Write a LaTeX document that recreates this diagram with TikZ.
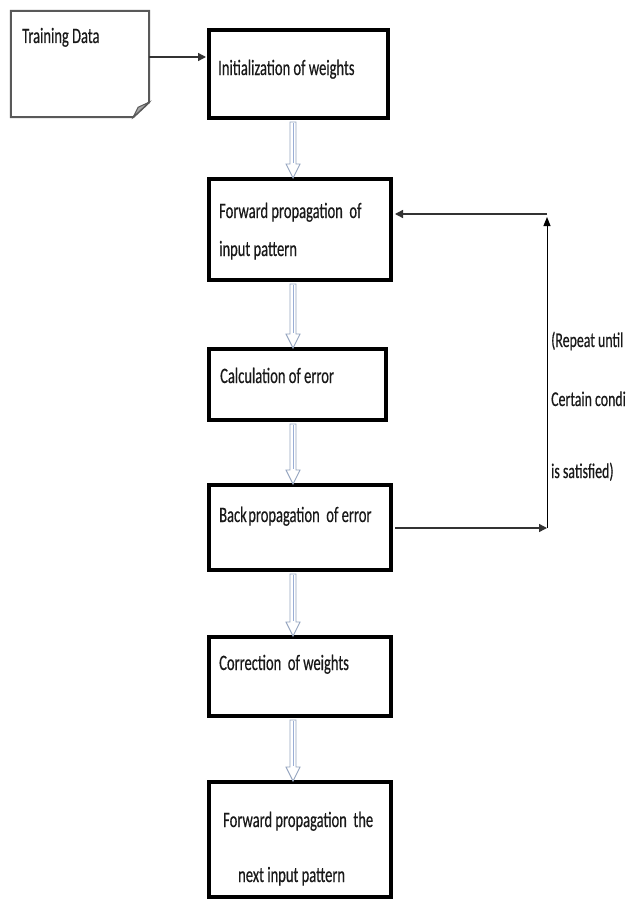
\documentclass[tikz,border=0pt]{standalone}
\usepackage{fontspec}
\setmainfont{Carlito}[FakeStretch=0.66, FakeBold=0.4]
\usetikzlibrary{arrows.meta,calc}
\definecolor{arrline}{RGB}{150,165,192}
\definecolor{arrcore}{RGB}{110,140,195}
\newcommand\flowarrow[2]{%
  \draw[blockarr] ($(#1.south -| ax)+(-3,2)$) -- ($(#2.north -| ax)+(-3,-13)$)
    -- ($(#2.north -| ax)+(-7,-13)$) -- ($(#2.north -| ax)+(0,1)$)
    -- ($(#2.north -| ax)+(7,-13)$) -- ($(#2.north -| ax)+(3,-13)$)
    -- ($(#1.south -| ax)+(3,2)$) -- cycle;
  \draw[arrcore!70, line width=0.6pt] ($(#1.south -| ax)+(0,3)$) -- ($(#2.north -| ax)+(0,-14)$);}
\begin{document}
\begin{tikzpicture}[x=1pt,y=-1pt,
  box/.style={draw=black, line width=4pt, inner sep=0pt, rectangle},
  lbl/.style={anchor=base west, inner sep=0pt, font=\fontsize{22}{26}\selectfont, text=black!90},
  sidelbl/.style={lbl, font=\fontsize{21}{25}\selectfont},
  conn/.style={draw=black!80, line width=1.4pt, -{Triangle[length=8pt,width=8pt]}},
  vconn/.style={draw=black, line width=1pt, -{Triangle[length=9pt,width=7pt]}},
  blockarr/.style={draw=arrline, line width=0.9pt, fill=white, line join=miter},
  docline/.style={draw=black!65, line width=2pt, line join=miter}]
\useasboundingbox (0,0) rectangle (627,899);
\fill[white] (0,0) rectangle (627,899);
\coordinate (ax) at (293,0);
% Training data document
\node[minimum width=138pt, minimum height=106pt, inner sep=0pt] (td) at (80,64) {};
\draw[docline] (td.north west) -- (td.north east) -- ($(td.south east)+(0,-15)$)
  -- ($(td.south east)+(-16,0)$) -- (td.south west) -- cycle;
\filldraw[draw=black!65, fill=black!35, line width=1pt] ($(td.south east)+(0,-15)$)
  -- ($(td.south east)+(-11,-10)$) -- ($(td.south east)+(-16,0)$) -- cycle;
\node[lbl] (tdT) at (22,43) {Training Data};
% boxes
\node[box, minimum width=179pt, minimum height=88pt] (init) at (298.5,74) {};
\node[box, minimum width=182pt, minimum height=101pt] (fp) at (300,229.5) {};
\node[box, minimum width=177pt, minimum height=71pt] (calc) at (297.5,384.5) {};
\node[box, minimum width=182pt, minimum height=85pt] (bp) at (300,527.5) {};
\node[box, minimum width=182pt, minimum height=79pt] (corr) at (300,676.5) {};
\node[box, minimum width=182pt, minimum height=115pt] (nxt) at (300,839.5) {};
% labels
\node[lbl] (initT) at (218,75) {Initialization of weights};
\node[lbl] (fpT1) at (219,218) {Forward propagation\ \ of};
\node[lbl] (fpT2) at (219,256) {input pattern};
\node[lbl] (calcT) at (220,383) {Calculation of error};
\node[lbl] (bpT) at (219,522) {Back\hspace{1.5pt}propagation\ \ of error};
\node[lbl] (corrT) at (219,670) {Correction\ \ of weights};
\node[lbl] (nxtT1) at (223,827) {Forward propagation\ \ the};
\node[lbl] (nxtT2) at (238,882) {next input pattern};
\node[sidelbl] (r1) at (551,347) {(Repeat until};
\node[sidelbl] (r2) at (551,406) {Certain condi};
\node[sidelbl] (r3) at (551,478) {is satisfied)};
% block arrows
\flowarrow{init}{fp}
\flowarrow{fp}{calc}
\flowarrow{calc}{bp}
\flowarrow{bp}{corr}
\flowarrow{corr}{nxt}
% connectors
\coordinate (ty) at (0,57);
\draw[conn, shorten >=1pt] (td.east |- ty) -- (init.west |- ty);
\coordinate (c1) at (547,528);
\coordinate (c2) at (547,214);
\draw[conn, shorten <=2pt] (bp.east |- c1) -- (c1);
\draw[vconn] (c1) -- ($(c2)+(0,3)$);
\draw[conn, shorten >=2pt] (c2) -- (fp.east |- c2);
\end{tikzpicture}
\end{document}
